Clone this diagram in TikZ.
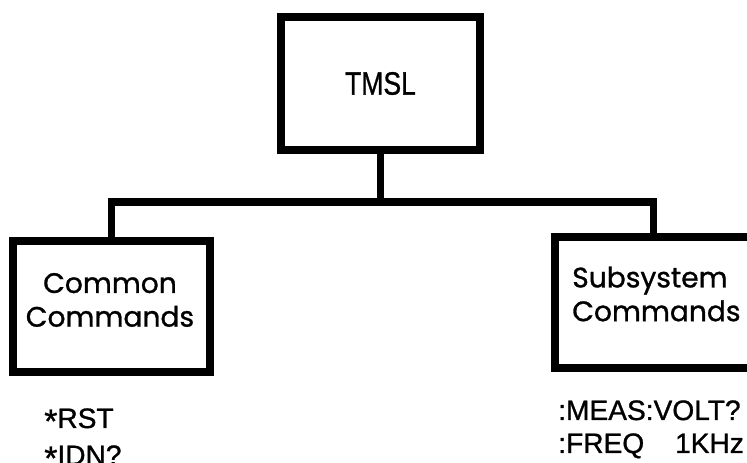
\documentclass[tikz,border=0pt]{standalone}
\usepackage{fontspec}
\setmainfont{Liberation Sans}[FakeBold=1]
\newfontfamily\roundfont{Poppins}[FakeBold=1]
\usetikzlibrary{positioning}

\newcommand{\lowstar}{\raisebox{-0.17em}{\scalebox{1.2}{*}}}

\tikzset{
  cmdbox/.style={draw, line width=5pt, minimum width=4.925cm, minimum height=3.275cm, inner sep=0pt},
  boxlabel/.style={font=\roundfont\fontsize{20}{24}\selectfont, inner sep=0pt},
  cmdlist/.style={font=\fontsize{20}{20}\selectfont, anchor=base west, inner sep=0pt},
  tree/.style={line width=5pt}
}

\begin{document}
\begin{tikzpicture}

  \useasboundingbox (0,0) rectangle (18.675,11.575);
  \clip (0,0) rectangle (18.675,11.575);

  % Top box
  \node[cmdbox, minimum width=4.975cm, minimum height=3.325cm,
        font=\fontsize{23}{23}\selectfont] (tmsl) at (9.5125,9.4875)
        {\scalebox{0.82}[1]{TMSL}};

  % Lower boxes
  \node[cmdbox] (common) at (2.7875,3.9125) {};
  \node[cmdbox] (subsys) at (16.3375,4.0125) {};
  \node[boxlabel, align=center] (commonlbl) at (2.75,4.075) {Common\\Commands};
  \node[boxlabel, align=left, anchor=west] (subsyslbl) at (14.3,4.225) {Subsystem\\Commands};

  % Branches
  \coordinate (bar) at (0,6.525);
  \draw[tree] (tmsl.south) -- (tmsl.south |- bar);
  \draw[tree] (common.north) -- (common.north |- bar)
    -- (subsys.north |- bar) -- (subsys.north);

  % Command examples
  \node[cmdlist] (rst) at (1.1,0.875) {\lowstar RST};
  \node[cmdlist] (idn) at (1.1,-0.05) {\lowstar IDN?};
  \node[cmdlist] (meas) at (13.95,1.075) {:MEAS:VOLT?};
  \node[cmdlist] (freq) at (13.95,0.25) {:FREQ\hspace{1.1em}1KHz};

\end{tikzpicture}
\end{document}
